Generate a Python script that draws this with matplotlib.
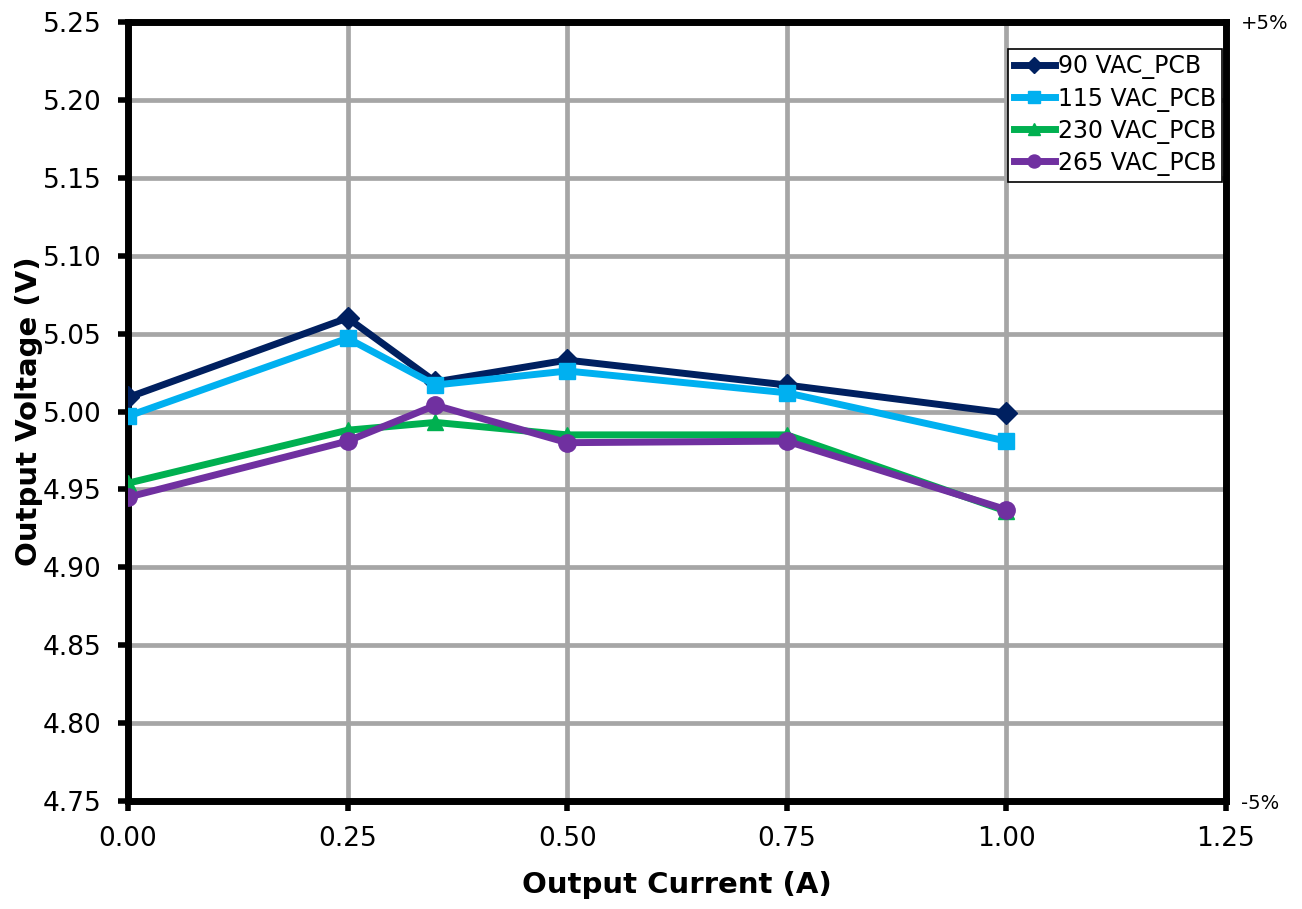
import matplotlib
matplotlib.use("Agg")
import matplotlib.pyplot as plt
from matplotlib.ticker import FormatStrFormatter

# data
current = [0.0, 0.25, 0.35, 0.50, 0.75, 1.00]
v90 = [5.009, 5.060, 5.019, 5.033, 5.017, 4.999]
v115 = [4.997, 5.047, 5.017, 5.026, 5.012, 4.981]
v230 = [4.954, 4.988, 4.993, 4.985, 4.985, 4.936]
v265 = [4.945, 4.981, 5.004, 4.980, 4.981, 4.937]

series = [
    ("90 VAC_PCB", v90, "#002060", "D", 11),
    ("115 VAC_PCB", v115, "#00B0F0", "s", 12),
    ("230 VAC_PCB", v230, "#00B050", "^", 12),
    ("265 VAC_PCB", v265, "#7030A0", "o", 12.5),
]

plt.rcParams['font.family'] = ['DejaVu Sans']

fig = plt.figure(figsize=(13.02, 9.09), dpi=100)
ax = fig.add_axes([0.0983, 0.1188, 0.8433, 0.857])

for label, vals, color, marker, ms in series:
    ax.plot(current, vals, color=color, linewidth=5, marker=marker,
            markersize=ms, label=label, zorder=3)

ax.set_xlim(0, 1.25)
ax.set_ylim(4.75, 5.25)
ax.set_xticks([0, 0.25, 0.5, 0.75, 1.0, 1.25])
ax.set_yticks([4.75 + 0.05 * i for i in range(11)])
ax.xaxis.set_major_formatter(FormatStrFormatter('%.2f'))
ax.yaxis.set_major_formatter(FormatStrFormatter('%.2f'))
ax.tick_params(axis='both', labelsize=19, width=4, length=7, direction='out')
ax.tick_params(axis='y', pad=12)
ax.tick_params(axis='x', pad=11)

ax.grid(color='#A6A6A6', linewidth=3.4, zorder=0)
ax.set_axisbelow(True)
for sp in ax.spines.values():
    sp.set_linewidth(5)
    sp.set_color('black')

ax.set_xlabel("Output Current (A)", fontsize=21, fontweight='bold')
ax.set_ylabel("Output Voltage (V)", fontsize=21, fontweight='bold')
ax.xaxis.set_label_coords(0.5, -0.09)
ax.yaxis.set_label_coords(-0.077, 0.5)

# secondary axis with tolerance marks
ax2 = ax.twinx()
ax2.set_ylim(4.75, 5.25)
ax2.set_yticks([4.75, 5.25])
ax2.set_yticklabels(["-5%", "+5%"])
ax2.tick_params(axis='y', labelsize=14, length=0, pad=11)
for sp in ax2.spines.values():
    sp.set_visible(False)

leg = ax.legend(loc='upper right', bbox_to_anchor=(1.001, 0.972), fontsize=17,
                frameon=True, fancybox=False, edgecolor='black', framealpha=1,
                handlelength=1.7, handletextpad=0.15, borderpad=0.25,
                labelspacing=0.3, borderaxespad=0.2, markerscale=0.75)
leg.get_frame().set_linewidth(1.2)

fig.savefig("out.png", dpi=100)
